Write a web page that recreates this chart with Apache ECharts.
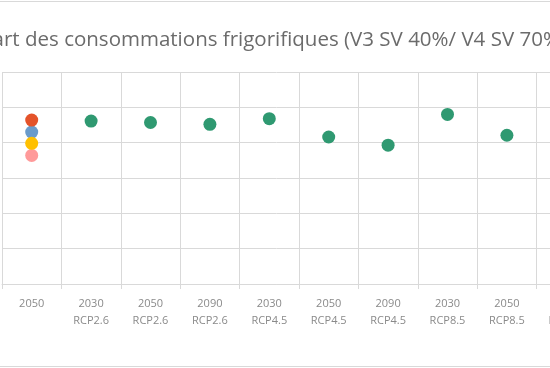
<!DOCTYPE html>
<html><head><meta charset="utf-8">
<script src="https://cdn.jsdelivr.net/npm/echarts@6/dist/echarts.min.js"></script>
<style>html,body{margin:0;padding:0;background:#fff}#c{width:550px;height:368px}</style>
</head><body><div id="c"></div>
<script>
// ---- data ----
const titleText = 'Écart des consommations frigorifiques (V3 SV 40%/ V4 SV 70%)';
const categories = ['2050', '2030\nRCP2.6', '2050\nRCP2.6', '2090\nRCP2.6', '2030\nRCP4.5', '2050\nRCP4.5', '2090\nRCP4.5', '2030\nRCP8.5', '2050\nRCP8.5', '2090\nRCP8.5'];
const yTicks = { min: 0, max: 60, interval: 10 };
const refRed    = [46.4, null, null, null, null, null, null, null, null, null];
const refBlue   = [43.0, null, null, null, null, null, null, null, null, null];
const refYellow = [39.8, null, null, null, null, null, null, null, null, null];
const refPink   = [36.4, null, null, null, null, null, null, null, null, null];
const scenarios = [null, 46.1, 45.7, 45.2, 46.8, 41.6, 39.3, 48.0, 42.1, null];

// ---- title fit (layout only) ----
const FONT = "'Open Sans', 'Liberation Sans', sans-serif";
const cv = document.createElement('canvas').getContext('2d');
cv.font = "100px " + FONT;
const wPrefix = cv.measureText('Écart ').width;
const wSub = cv.measureText('des consommations frigorifiques (V3 SV 40%/ V4 SV 70').width;
const titleFs = 100 * 518 / wSub;
const titleLeft = 25 - wPrefix * titleFs / 100;

const chart = echarts.init(document.getElementById('c'), null, { renderer: 'canvas' });
function sc(name, data, color) {
  return { name: name, type: 'scatter', data: data, symbol: 'circle', symbolSize: 13,
           itemStyle: { color: color, opacity: 1 }, emphasis: { disabled: true } };
}
chart.setOption({
  animation: false,
  backgroundColor: '#ffffff',
  title: {
    text: titleText, left: titleLeft, top: 46.7 - titleFs * 0.84,
    padding: 0,
    textStyle: { fontFamily: FONT, fontWeight: 'normal', fontSize: titleFs, color: '#6b6b6b' }
  },
  graphic: [{ type: 'rect', silent: true, shape: { x: -5, y: 1.5, width: 560, height: 365 },
              style: { fill: 'none', stroke: '#d9d9d9', lineWidth: 1 } }],
  grid: { left: 2, width: 594, top: 72, height: 212, containLabel: false, outerBoundsMode: 'none' },
  xAxis: {
    type: 'category', data: categories, boundaryGap: true,
    axisLine: { show: true, lineStyle: { color: '#d9d9d9', width: 1 } },
    axisTick: { show: true, length: 5, lineStyle: { color: '#d9d9d9' } },
    splitLine: { show: true, lineStyle: { color: '#d9d9d9', width: 1 } },
    axisLabel: { interval: 0, margin: 11, fontFamily: FONT, fontSize: 11, lineHeight: 17, color: '#8a8a8a', hideOverlap: false }
  },
  yAxis: {
    type: 'value', min: yTicks.min, max: yTicks.max, interval: yTicks.interval,
    axisLine: { show: false }, axisTick: { show: false }, axisLabel: { show: false },
    splitLine: { show: true, lineStyle: { color: '#d9d9d9', width: 1 } }
  },
  series: [
    sc('Série 4', refPink, '#ff9a9a'),
    sc('Série 2', refBlue, '#6a9bcb'),
    sc('Série 3', refYellow, '#ffc000'),
    sc('Série 1', refRed, '#e4532a'),
    sc('Scénarios', scenarios, '#2f9971')
  ]
});
</script></body></html>
